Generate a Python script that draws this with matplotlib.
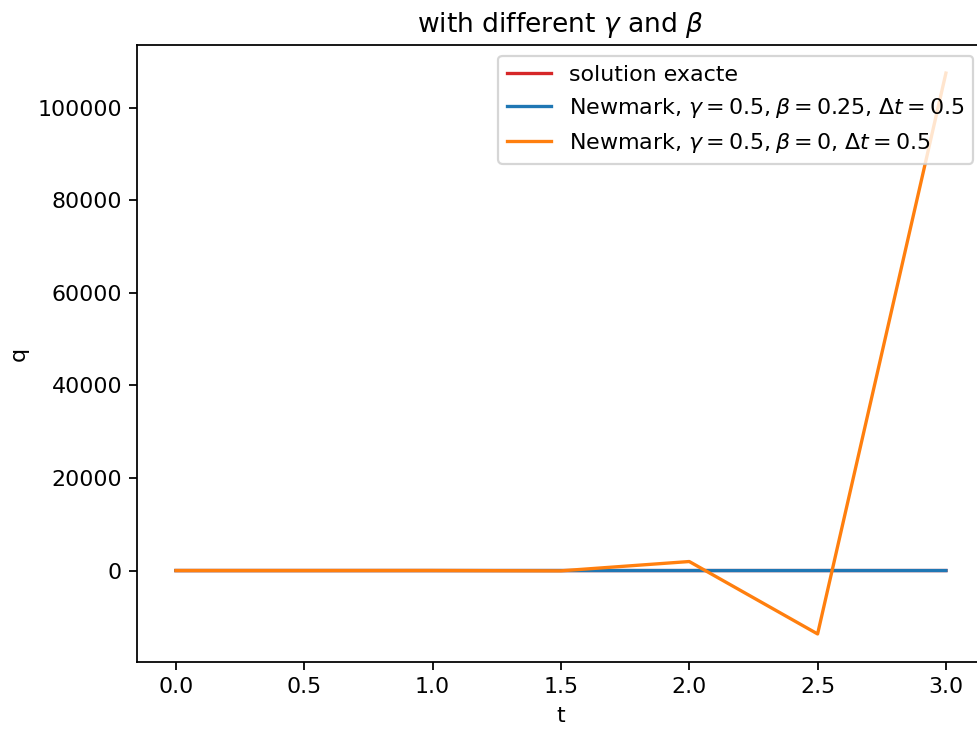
import numpy as np
import matplotlib
matplotlib.use("Agg")
import matplotlib.pyplot as plt

# pas de temps
t = [0.0, 0.5, 1.0, 1.5, 2.0, 2.5, 3.0]

# solution exacte (cachee sous la courbe bleue)
q_exact = [1.0, 0.6, -0.3, -0.9, -0.7, 0.1, 0.8]
# Newmark stable (gamma=0.5, beta=0.25)
q_nm_stable = [1.0, 0.5, -0.4, -0.9, -0.6, 0.2, 0.9]
# Newmark instable (gamma=0.5, beta=0)
q_nm_explicite = [1.0, -2.0, 10.0, -60.0, 1950.0, -13700.0, 107500.0]

DPI = 159
fig = plt.figure(figsize=(977 / DPI, 731 / DPI), dpi=DPI)
ax = fig.add_axes([0.1407, 0.0944, 0.8669, 0.844])

ax.plot(t, q_exact, c='tab:red', label='solution exacte')
ax.plot(t, q_nm_stable, c='tab:blue', label=r'Newmark, $\gamma = 0.5, \beta = 0.25$, $\Delta t = 0.5$')
ax.plot(t, q_nm_explicite, c='tab:orange', label=r'Newmark, $\gamma = 0.5, \beta = 0$, $\Delta t = 0.5$')

ax.set_title(r"with different $\gamma$ and $\beta$")
ax.set_xlabel("t")
ax.set_ylabel("q")
ax.legend(loc='upper right')

fig.savefig("out.png", dpi=DPI)
